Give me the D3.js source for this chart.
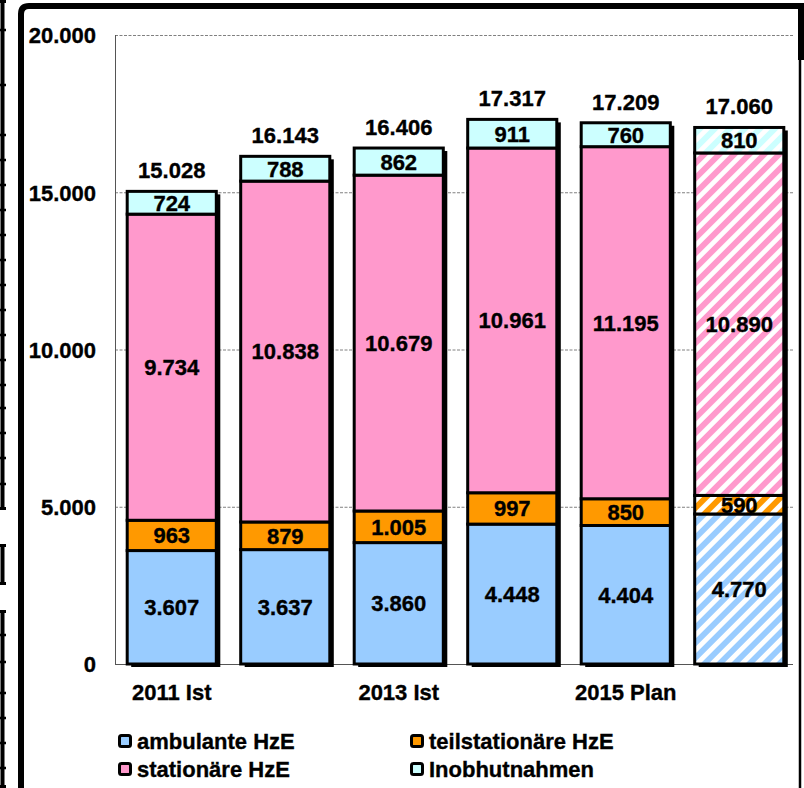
<!DOCTYPE html>
<html>
<head>
<meta charset="utf-8">
<script src="https://cdn.jsdelivr.net/npm/d3@7"></script>
<style>
  body { margin: 0; background: #fff; }
  svg { display: block; }
  text { font-family: "Liberation Sans", Arial, sans-serif; font-weight: bold; fill: #000; stroke: #000; stroke-width: 0.35px; }
</style>
</head>
<body>
<div id="chart"></div>
<script>
// data
var categories = ["2011 Ist", "2012 Ist", "2013 Ist", "2014 Ist", "2015 Plan", "2016 Plan"];
var ambulante = [3607, 3637, 3860, 4448, 4404, 4770];
var teilstationaer = [963, 879, 1005, 997, 850, 590];
var stationaer = [9734, 10838, 10679, 10961, 11195, 10890];
var inobhut = [724, 788, 862, 911, 760, 810];
var totals = [15028, 16143, 16406, 17317, 17209, 17060];
var yTicks = [0, 5000, 10000, 15000, 20000];
var seriesNames = ["ambulante HzE", "teilstationäre HzE", "stationäre HzE", "Inobhutnahmen"];
var seriesColors = ["#99ccff", "#ff9900", "#ff99cc", "#ccffff"];
var hatched = [false, false, false, false, false, true];

var width = 804, height = 788;
var fs = 22;

var svg = d3.select("#chart").append("svg")
    .attr("width", width)
    .attr("height", height);

var fmt = d3.formatLocale({ decimal: ",", thousands: ".", grouping: [3], currency: ["", "€"] }).format(",d");

// stripe patterns for the plan bar
var defs = svg.append("defs");
seriesColors.forEach(function (c, i) {
    var p = defs.append("pattern")
        .attr("id", "hatch" + i)
        .attr("patternUnits", "userSpaceOnUse")
        .attr("width", 10.6)
        .attr("height", 10.6)
        .attr("patternTransform", "rotate(45)");
    p.append("rect").attr("width", 10.6).attr("height", 10.6).attr("fill", "#fff");
    p.append("rect").attr("width", 5.8).attr("height", 10.6).attr("fill", c);
});

// left strip (cut off neighbour)
var strip = [[0, 510], [544, 585], [610, 788]];
strip.forEach(function (s) {
    svg.append("line").attr("x1", 2.5).attr("x2", 2.5).attr("y1", s[0]).attr("y2", s[1])
        .attr("stroke", "#000").attr("stroke-width", 4);
    svg.append("line").attr("x1", 0).attr("x2", 6).attr("y1", s[0] + 1.5).attr("y2", s[0] + 1.5)
        .attr("stroke", "#000").attr("stroke-width", 3);
    svg.append("line").attr("x1", 0).attr("x2", 6).attr("y1", s[1] - 1.5).attr("y2", s[1] - 1.5)
        .attr("stroke", "#000").attr("stroke-width", 3);
});
var stripTicks = [30, 85, 135, 160, 185, 210, 235, 260, 285, 310, 335, 360, 385, 408, 433, 458, 484, 635, 662, 693, 718, 743, 768];
stripTicks.forEach(function (t) {
    svg.append("line").attr("x1", 0).attr("x2", 6).attr("y1", t).attr("y2", t)
        .attr("stroke", "#000").attr("stroke-width", 2.5);
});

// frame
svg.append("path")
    .attr("d", "M21,800 L21,14 Q21,6 29,6 L801,6")
    .attr("fill", "none").attr("stroke", "#000").attr("stroke-width", 6);
svg.append("line").attr("x1", 801).attr("x2", 801).attr("y1", 3).attr("y2", 60)
    .attr("stroke", "#000").attr("stroke-width", 6);
svg.append("line").attr("x1", 800).attr("x2", 800).attr("y1", 60).attr("y2", 788)
    .attr("stroke", "#000").attr("stroke-width", 2.5);

// scales
var x = d3.scaleBand().domain(categories).range([115, 796]).paddingInner(0.215).paddingOuter(0.1075);
var y = d3.scaleLinear().domain([0, 20000]).range([664, 35]);

// gridlines
svg.append("g").selectAll("line")
    .data(yTicks.filter(function (d) { return d > 0; }))
    .enter().append("line")
    .attr("x1", 115).attr("x2", 793)
    .attr("y1", function (d) { return y(d) + 0.5; })
    .attr("y2", function (d) { return y(d) + 0.5; })
    .attr("stroke", "#808080").attr("stroke-width", 1).attr("stroke-dasharray", "3,1.5");

// plot frame lines
svg.append("line").attr("x1", 115.5).attr("x2", 115.5).attr("y1", y(20000)).attr("y2", y(0))
    .attr("stroke", "#555").attr("stroke-width", 1);
svg.append("line").attr("x1", 115).attr("x2", 793).attr("y1", y(0) + 0.5).attr("y2", y(0) + 0.5)
    .attr("stroke", "#555").attr("stroke-width", 1);

// y axis labels
var yAxis = d3.axisLeft(y).tickValues(yTicks).tickFormat(fmt).tickSize(0).tickPadding(0);
var ga = svg.append("g").attr("transform", "translate(96,0)").call(yAxis);
ga.select(".domain").remove();
ga.selectAll("text").attr("font-size", fs).attr("font-family", "Liberation Sans, Arial, sans-serif")
    .attr("font-weight", "bold").attr("fill", "#000").attr("dy", "0.36em");

// x axis labels (every second shown)
var xAxis = d3.axisBottom(x).tickSize(0).tickPadding(0)
    .tickFormat(function (d, i) { return i % 2 === 0 ? d : ""; });
var gx = svg.append("g").attr("transform", "translate(0,683)").call(xAxis);
gx.select(".domain").remove();
gx.selectAll("text").attr("font-size", fs).attr("font-family", "Liberation Sans, Arial, sans-serif")
    .attr("font-weight", "bold").attr("fill", "#000").attr("dy", "0.75em");

// stacked bars
var rows = categories.map(function (c, i) {
    return { cat: c, i: i, s0: ambulante[i], s1: teilstationaer[i], s2: stationaer[i], s3: inobhut[i] };
});
var stack = d3.stack().keys(["s0", "s1", "s2", "s3"]);
var layers = stack(rows);

var bars = svg.append("g");
// shadows
bars.selectAll(".shadow").data(rows).enter().append("rect")
    .attr("x", function (d) { return x(d.cat) + 4; })
    .attr("y", function (d) { return y(d.s0 + d.s1 + d.s2 + d.s3) + 3; })
    .attr("width", x.bandwidth())
    .attr("height", function (d) { return y(0) - y(d.s0 + d.s1 + d.s2 + d.s3); })
    .attr("fill", "#000");

layers.forEach(function (layer, k) {
    bars.selectAll(".seg" + k).data(layer).enter().append("rect")
        .attr("x", function (d) { return x(d.data.cat); })
        .attr("y", function (d) { return y(d[1]); })
        .attr("width", x.bandwidth())
        .attr("height", function (d) { return y(d[0]) - y(d[1]); })
        .attr("fill", function (d) { return hatched[d.data.i] ? "url(#hatch" + k + ")" : seriesColors[k]; })
        .attr("stroke", "#000").attr("stroke-width", 3);
});

// segment labels
layers.forEach(function (layer, k) {
    bars.selectAll(".lab" + k).data(layer).enter().append("text")
        .attr("x", function (d) { return x(d.data.cat) + x.bandwidth() / 2; })
        .attr("y", function (d) { return (y(d[0]) + y(d[1])) / 2; })
        .attr("dy", "0.36em")
        .attr("text-anchor", "middle")
        .attr("font-size", fs)
        .text(function (d) { return fmt(d[1] - d[0]); });
});

// totals
bars.selectAll(".tot").data(rows).enter().append("text")
    .attr("x", function (d) { return x(d.cat) + x.bandwidth() / 2; })
    .attr("y", function (d) { return y(d.s0 + d.s1 + d.s2 + d.s3) - 13; })
    .attr("text-anchor", "middle")
    .attr("font-size", fs)
    .text(function (d) { return fmt(totals[d.i]); });

// legend
var legendPos = [[118, 734], [410, 734], [118, 762], [410, 762]];
var lg = svg.append("g").selectAll("g").data(seriesNames).enter().append("g")
    .attr("transform", function (d, i) { return "translate(" + legendPos[i][0] + "," + legendPos[i][1] + ")"; });
lg.append("rect").attr("x", 1.5).attr("y", 1.5).attr("width", 11).attr("height", 11)
    .attr("rx", 2).attr("fill", function (d, i) { return seriesColors[i]; })
    .attr("stroke", "#000").attr("stroke-width", 3);
lg.append("text").attr("x", 19).attr("y", 15).attr("font-size", fs).text(function (d) { return d; });
</script>
</body>
</html>
